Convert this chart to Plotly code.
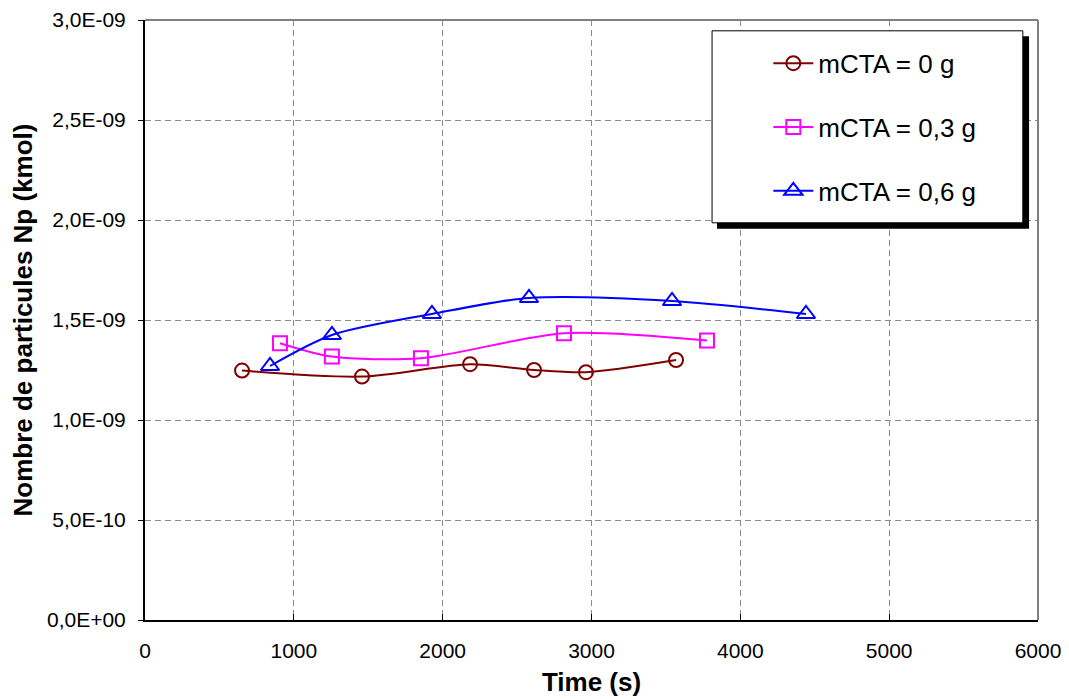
import plotly.graph_objects as go

x0 = [652, 1458, 2184, 2614, 2963, 3568]
y0 = [1.247e-9, 1.217e-9, 1.279e-9, 1.250e-9, 1.239e-9, 1.300e-9]
x3 = [907, 1256, 1854, 2815, 3776]
y3 = [1.384e-9, 1.317e-9, 1.309e-9, 1.434e-9, 1.397e-9]
x6 = [840, 1256, 1928, 2580, 3541, 4441]
y6 = [1.270e-9, 1.425e-9, 1.530e-9, 1.610e-9, 1.595e-9, 1.530e-9]

names = ["mCTA = 0 g", "mCTA = 0,3 g", "mCTA = 0,6 g"]
colors = ["#800000", "#FF00FF", "#0000FF"]
symbols = ["circle-open", "square-open", "triangle-up-open"]
msizes = [14, 14, 16]

yticks = [0, 0.5e-9, 1.0e-9, 1.5e-9, 2.0e-9, 2.5e-9, 3.0e-9]
yticklabels = ["0,0E+00", "5,0E-10", "1,0E-09", "1,5E-09", "2,0E-09", "2,5E-09", "3,0E-09"]
xticks = [0, 1000, 2000, 3000, 4000, 5000, 6000]

fig = go.Figure()
for i, (xs, ys, n, c, s, ms) in enumerate(zip([x0, x3, x6], [y0, y3, y6], names, colors, symbols, msizes)):
    fig.add_trace(go.Scatter(
        x=xs, y=ys, name=n, mode="lines+markers", legendgroup=f"g{i}",
        line=dict(color=c, width=2, shape="spline", smoothing=0.8),
        marker=dict(symbol=s, size=ms, color=c, line=dict(width=2, color=c)),
    ))

font = "Liberation Sans, Arial, sans-serif"
fig.update_layout(
    width=1061, height=691,
    margin=dict(l=137, r=31, t=12, b=79, autoexpand=False),
    paper_bgcolor="white", plot_bgcolor="white",
    font=dict(family=font, size=21, color="black"),
    showlegend=True,
    legend=dict(
        x=0.698, y=0.967, xanchor="left", yanchor="top",
        bgcolor="rgba(0,0,0,0)", borderwidth=0,
        font=dict(size=26, family=font), tracegroupgap=27,
        itemwidth=40,
    ),
    xaxis=dict(
        range=[0, 6000], tickvals=xticks, ticktext=[str(v) for v in xticks],
        showgrid=True, gridcolor="#8c8c8c", griddash="6px,4px", gridwidth=1,
        showline=True, linecolor="black", linewidth=2, mirror=False,
        ticks="inside", ticklen=6, tickcolor="black", zeroline=False,
        ticklabelstandoff=11, automargin=False, ticklabeloverflow="allow",
        title=dict(text="<b>Time (s)</b>", font=dict(size=26, family=font), standoff=12),
    ),
    yaxis=dict(
        range=[0, 3.0e-9], tickvals=yticks, ticktext=yticklabels,
        showgrid=True, gridcolor="#8c8c8c", griddash="6px,4px", gridwidth=1,
        showline=True, linecolor="black", linewidth=2,
        ticks="outside", ticklen=5, tickcolor="black", zeroline=False,
        ticklabelstandoff=8, automargin=False, ticklabeloverflow="allow",
        title=dict(text="<b>Nombre de particules Np (kmol)</b>", font=dict(size=26, family=font), standoff=14),
    ),
    shapes=[
        dict(type="line", xref="paper", yref="paper", x0=0, x1=1, y0=1, y1=1,
             line=dict(color="#808080", width=2)),
        dict(type="line", xref="paper", yref="paper", x0=1, x1=1, y0=0, y1=1,
             line=dict(color="#808080", width=2)),
        dict(type="rect", xref="paper", yref="paper", x0=0.6405, x1=0.990, y0=0.652, y1=0.973,
             fillcolor="black", line=dict(width=0), layer="above"),
        dict(type="rect", xref="paper", yref="paper", x0=0.635, x1=0.983, y0=0.662, y1=0.982,
             fillcolor="white", line=dict(color="black", width=1), layer="above"),
    ],
)
fig.write_html("out.html")
